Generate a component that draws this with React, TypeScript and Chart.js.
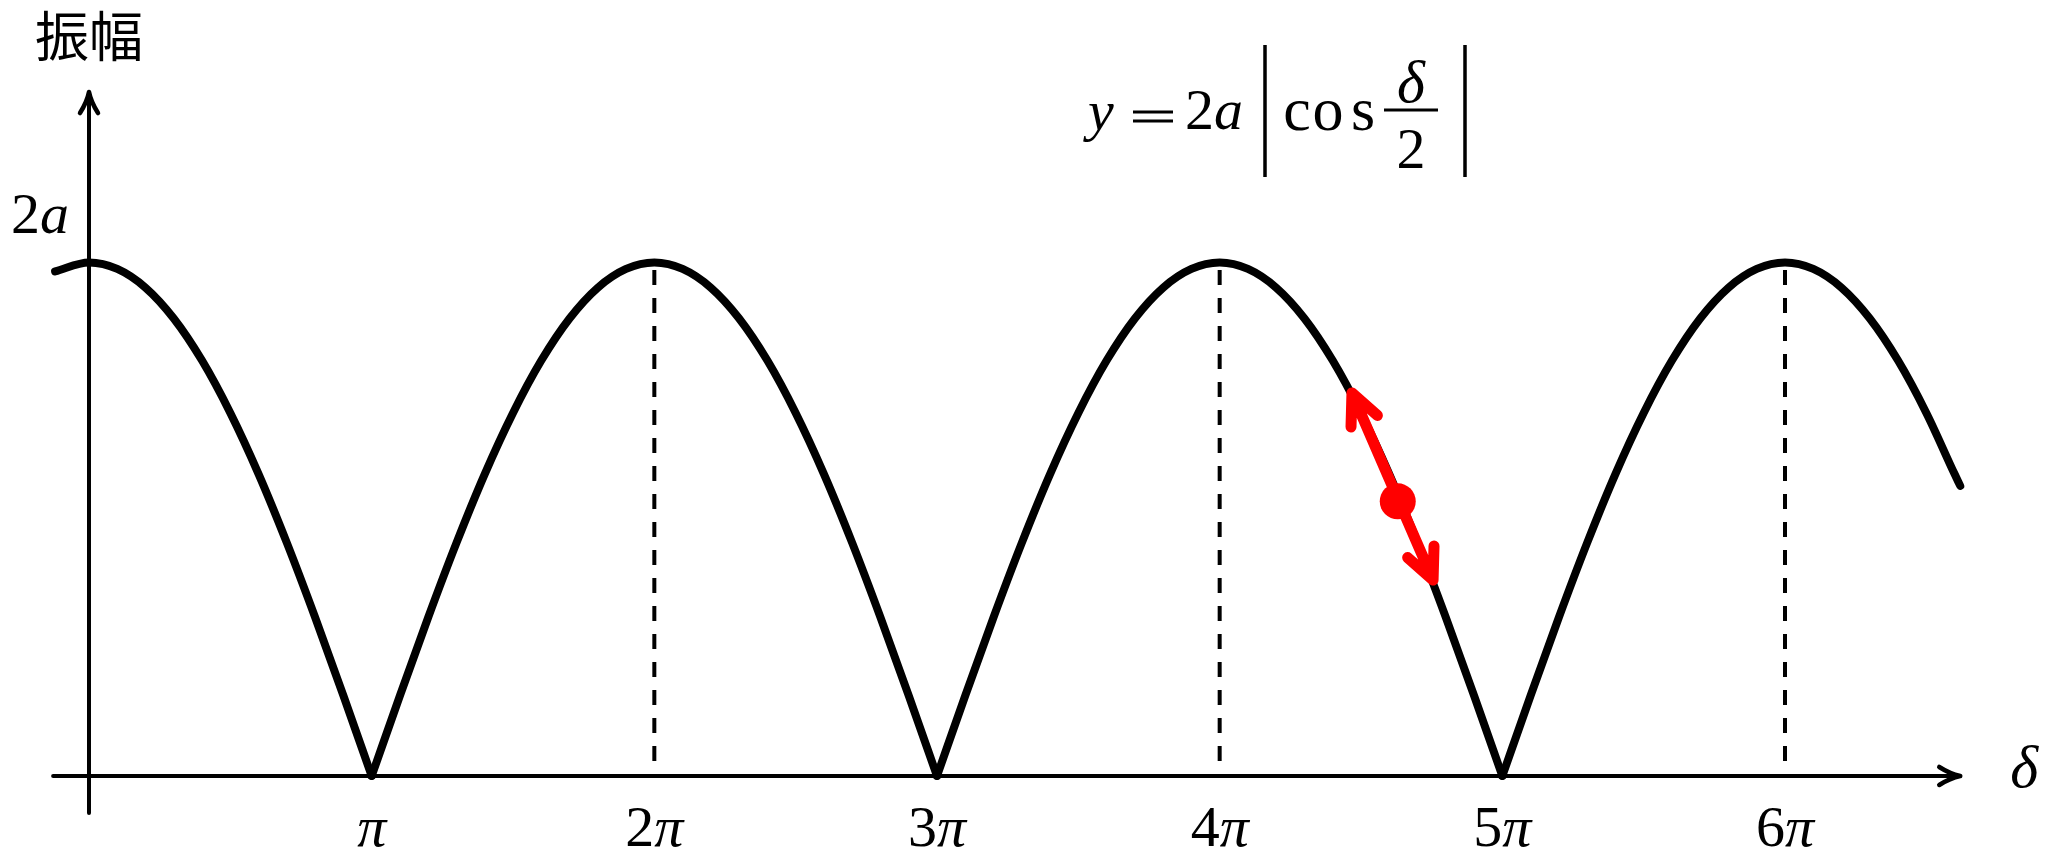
import React, { useEffect, useRef } from "react";
import { Chart, registerables } from "chart.js";

Chart.register(...registerables);

// ---- data (δ in units of π, amplitude in units of a) ----
const deltaOverPi = [
  -0.12, 0, 0.1, 0.2, 0.3, 0.4, 0.5, 0.6, 0.7, 0.8, 0.9,
  1, 1.1, 1.2, 1.3, 1.4, 1.5, 1.6, 1.7, 1.8, 1.9,
  2, 2.1, 2.2, 2.3, 2.4, 2.5, 2.6, 2.7, 2.8, 2.9,
  3, 3.1, 3.2, 3.3, 3.4, 3.5, 3.6, 3.7, 3.8, 3.9,
  4, 4.1, 4.2, 4.3, 4.4, 4.5, 4.6, 4.7, 4.8, 4.9,
  5, 5.1, 5.2, 5.3, 5.4, 5.5, 5.6, 5.7, 5.8, 5.9,
  6, 6.1, 6.2, 6.3, 6.4, 6.5, 6.6, 6.62,
];
const amplitude = [
  1.965, 2.0, 1.975, 1.902, 1.782, 1.618, 1.414, 1.176, 0.908, 0.618, 0.313,
  0, 0.313, 0.618, 0.908, 1.176, 1.414, 1.618, 1.782, 1.902, 1.975,
  2.0, 1.975, 1.902, 1.782, 1.618, 1.414, 1.176, 0.908, 0.618, 0.313,
  0, 0.313, 0.618, 0.908, 1.176, 1.414, 1.618, 1.782, 1.902, 1.975,
  2.0, 1.975, 1.902, 1.782, 1.618, 1.414, 1.176, 0.908, 0.618, 0.313,
  0, 0.313, 0.618, 0.908, 1.176, 1.414, 1.618, 1.782, 1.902, 1.975,
  2.0, 1.975, 1.902, 1.782, 1.618, 1.414, 1.176, 1.13,
];
const peakDeltas = [2, 4, 6];
const peakAmplitude = 2;
const tickValues = [1, 2, 3, 4, 5, 6];
const tickLabels = ["π", "2π", "3π", "4π", "5π", "6π"];
const yTickValue = 2;
const yTickLabel = "2a";
const xAxisTitle = "δ";
const yAxisTitle = "振幅";
const markerDelta = [4.63];
const markerAmp = [1.07];
const arrowUpperTip = [4.468, 1.492];
const arrowLowerTip = [4.755, 0.763];
const xAxisRange = [-0.127, 6.62];
const yAxisRange = [-0.144, 2.664];

// ---- style ----
const W = 2048;
const H = 862;
const SERIF = '"Liberation Serif", "Times New Roman", serif';
const CJK = '"Noto Sans CJK JP", "Noto Sans CJK SC", sans-serif';
const RED = "#ff0000";

type Run = { t: string; it?: boolean };

function drawRuns(ctx: CanvasRenderingContext2D, runs: Run[], x: number, baseline: number, size: number, align: "left" | "center" | "right") {
  const widths = runs.map((r) => {
    ctx.font = `${r.it ? "italic " : ""}${size}px ${SERIF}`;
    return ctx.measureText(r.t).width;
  });
  const total = widths.reduce((a, b) => a + b, 0);
  let cx = align === "left" ? x : align === "center" ? x - total / 2 : x - total;
  ctx.textAlign = "left";
  ctx.textBaseline = "alphabetic";
  runs.forEach((r, i) => {
    ctx.font = `${r.it ? "italic " : ""}${size}px ${SERIF}`;
    ctx.fillText(r.t, cx, baseline);
    cx += widths[i];
  });
}

function labelRuns(s: string): Run[] {
  const runs: Run[] = [];
  for (const ch of s) {
    const it = /[a-zπδ]/.test(ch);
    const last = runs[runs.length - 1];
    if (last && !!last.it === it) last.t += ch;
    else runs.push({ t: ch, it });
  }
  return runs;
}

function axisArrow(ctx: CanvasRenderingContext2D, tx: number, ty: number, angle: number) {
  ctx.save();
  ctx.translate(tx, ty);
  ctx.rotate(angle);
  ctx.lineWidth = 4.5;
  ctx.lineCap = "round";
  ctx.lineJoin = "round";
  ctx.beginPath();
  ctx.moveTo(0, 0);
  ctx.quadraticCurveTo(-10, -2, -21, -9);
  ctx.moveTo(0, 0);
  ctx.quadraticCurveTo(-10, 2, -21, 9);
  ctx.stroke();
  ctx.restore();
}

function redHead(ctx: CanvasRenderingContext2D, tx: number, ty: number, dx: number, dy: number) {
  const L = 34;
  const a = (25 * Math.PI) / 180;
  for (const s of [-1, 1]) {
    const c = Math.cos(s * a);
    const sn = Math.sin(s * a);
    const vx = dx * c - dy * sn;
    const vy = dx * sn + dy * c;
    ctx.moveTo(tx, ty);
    ctx.lineTo(tx + vx * L, ty + vy * L);
  }
}

const overlay = {
  id: "overlay",
  beforeDatasetsDraw(chart: any) {
    const { ctx } = chart;
    const xs = chart.scales.x;
    const ys = chart.scales.y;
    const x0 = xs.getPixelForValue(0);
    const y0 = ys.getPixelForValue(0);
    ctx.save();
    ctx.strokeStyle = "#000";
    ctx.lineWidth = 4;
    ctx.lineCap = "round";
    const xa = xs.getPixelForValue(xAxisRange[0]);
    const xb = xs.getPixelForValue(xAxisRange[1]);
    ctx.beginPath();
    ctx.moveTo(xa, y0);
    ctx.lineTo(xb - 2, y0);
    ctx.stroke();
    axisArrow(ctx, xb, y0, 0);
    const ya = ys.getPixelForValue(yAxisRange[0]);
    const yb = ys.getPixelForValue(yAxisRange[1]);
    ctx.beginPath();
    ctx.moveTo(x0, ya);
    ctx.lineTo(x0, yb + 2);
    ctx.stroke();
    axisArrow(ctx, x0, yb, -Math.PI / 2);
    ctx.restore();
  },
  afterDatasetsDraw(chart: any) {
    const { ctx } = chart;
    const xs = chart.scales.x;
    const ys = chart.scales.y;
    const x0 = xs.getPixelForValue(0);
    const y0 = ys.getPixelForValue(0);
    ctx.save();

    // red double arrow
    const ux = xs.getPixelForValue(arrowUpperTip[0]);
    const uy = ys.getPixelForValue(arrowUpperTip[1]);
    const lx = xs.getPixelForValue(arrowLowerTip[0]);
    const ly = ys.getPixelForValue(arrowLowerTip[1]);
    const len = Math.hypot(lx - ux, ly - uy);
    const dx = (lx - ux) / len;
    const dy = (ly - uy) / len;
    ctx.strokeStyle = RED;
    ctx.lineWidth = 11;
    ctx.lineCap = "round";
    ctx.lineJoin = "round";
    ctx.beginPath();
    ctx.moveTo(ux, uy);
    ctx.lineTo(lx, ly);
    redHead(ctx, ux, uy, dx, dy);
    redHead(ctx, lx, ly, -dx, -dy);
    ctx.stroke();

    ctx.fillStyle = "#000";
    ctx.strokeStyle = "#000";

    // tick labels
    tickValues.forEach((v, i) => {
      drawRuns(ctx, labelRuns(tickLabels[i]), xs.getPixelForValue(v), y0 + 70, 58, "center");
    });
    // y tick label
    drawRuns(ctx, labelRuns(yTickLabel), x0 - 20, ys.getPixelForValue(yTickValue) - 29, 58, "right");
    // x axis title
    drawRuns(ctx, [{ t: xAxisTitle, it: true }], xs.getPixelForValue(xAxisRange[1]) + 50, y0 + 11, 60, "left");
    // y axis title
    ctx.font = `54px ${CJK}`;
    ctx.textAlign = "center";
    ctx.textBaseline = "middle";
    ctx.fillText(yAxisTitle, x0, 36);

    // formula  y = 2a | cos δ/2 |
    drawRuns(ctx, [{ t: "y", it: true }], 1088, 130, 58, "left");
    ctx.lineWidth = 3;
    ctx.lineCap = "butt";
    ctx.beginPath();
    ctx.moveTo(1133, 112);
    ctx.lineTo(1173, 112);
    ctx.moveTo(1133, 121);
    ctx.lineTo(1173, 121);
    ctx.stroke();
    drawRuns(ctx, [{ t: "2" }, { t: "a", it: true }], 1185, 129, 58, "left");
    ctx.lineWidth = 3.5;
    ctx.beginPath();
    ctx.moveTo(1265, 45);
    ctx.lineTo(1265, 177);
    ctx.moveTo(1465, 45);
    ctx.lineTo(1465, 177);
    ctx.stroke();
    drawRuns(ctx, [{ t: "c" }], 1297, 130, 62, "center");
    drawRuns(ctx, [{ t: "o" }], 1328, 130, 62, "center");
    drawRuns(ctx, [{ t: "s" }], 1363, 130, 62, "center");
    drawRuns(ctx, [{ t: "δ", it: true }], 1411, 102, 60, "center");
    ctx.lineWidth = 3;
    ctx.beginPath();
    ctx.moveTo(1384, 110);
    ctx.lineTo(1438, 110);
    ctx.stroke();
    drawRuns(ctx, [{ t: "2" }], 1411, 168, 58, "center");

    ctx.restore();
  },
};

function buildArches() {
  const arches: { x: number; y: number }[][] = [];
  let cur: { x: number; y: number }[] = [];
  for (let i = 0; i < deltaOverPi.length; i++) {
    const p = { x: deltaOverPi[i], y: amplitude[i] };
    cur.push(p);
    if (amplitude[i] === 0 && cur.length > 1) {
      arches.push(cur);
      cur = [p];
    }
  }
  if (cur.length > 1) arches.push(cur);
  return arches;
}

export default function App() {
  const ref = useRef<HTMLCanvasElement>(null);

  useEffect(() => {
    document.body.style.margin = "0";
    document.body.style.overflow = "hidden";
    let chart: Chart | null = null;
    let cancelled = false;

    const make = () => {
      if (cancelled || !ref.current) return;
      const archSets = buildArches().map((d) => ({
        data: d,
        borderColor: "#000",
        borderWidth: 8,
        pointRadius: 0,
        cubicInterpolationMode: "monotone" as const,
        borderCapStyle: "round" as const,
        borderJoinStyle: "round" as const,
        order: 1,
        clip: false as any,
      }));
      const dashSets = peakDeltas.map((p) => ({
        data: [
          { x: p, y: 0 },
          { x: p, y: peakAmplitude },
        ],
        borderColor: "#000",
        borderWidth: 4,
        borderDash: [15, 13],
        borderDashOffset: 13,
        pointRadius: 0,
        tension: 0,
        order: 2,
      }));
      const dotSet = {
        data: markerDelta.map((d, i) => ({ x: d, y: markerAmp[i] })),
        showLine: false,
        pointRadius: 18,
        pointBackgroundColor: RED,
        pointBorderWidth: 0,
        borderColor: RED,
        order: 0,
      };
      chart = new Chart(ref.current, {
        type: "line",
        data: { datasets: [...archSets, ...dashSets, dotSet] as any },
        options: {
          responsive: false,
          maintainAspectRatio: false,
          devicePixelRatio: 1,
          animation: false,
          events: [],
          layout: { autoPadding: false, padding: { left: 18.333, right: 8.6, top: 57.1, bottom: 9.0 } },
          plugins: { legend: { display: false }, tooltip: { enabled: false } },
          scales: {
            x: { type: "linear", min: -0.25, max: 6.9, display: false },
            y: { type: "linear", min: -0.3, max: 2.8, display: false },
          },
        },
        plugins: [overlay],
      });
    };

    const fontsApi = (document as any).fonts;
    if (fontsApi && fontsApi.load) {
      Promise.all([
        fontsApi.load(`58px ${SERIF}`),
        fontsApi.load(`italic 58px ${SERIF}`),
        fontsApi.load(`54px ${CJK}`),
      ]).then(make, make);
    } else {
      make();
    }

    return () => {
      cancelled = true;
      if (chart) chart.destroy();
    };
  }, []);

  return (
    <canvas
      ref={ref}
      width={W}
      height={H}
      style={{ display: "block", width: W, height: H, background: "#fff" }}
    />
  );
}
